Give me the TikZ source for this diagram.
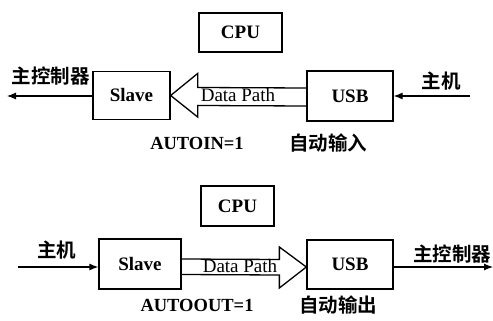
\documentclass[tikz,border=0pt]{standalone}
\usepackage{fontspec}
\setmainfont{Liberation Serif}
\newfontfamily\cjk{Noto Sans CJK SC}[BoldFont={Noto Sans CJK SC Bold}]
\usetikzlibrary{calc,arrows.meta}
\begin{document}
\begin{tikzpicture}[x=1pt,y=-1pt,
  box/.style={draw,line width=1.3pt,inner sep=0pt,font=\fontsize{19}{19}\selectfont\bfseries},
  lbl/.style={inner sep=0pt,font=\fontsize{18.5}{18.5}\selectfont\bfseries},
  zh/.style={inner sep=0pt,font=\fontsize{19.5}{19.5}\selectfont\cjk\bfseries},
  flow/.style={line width=1.1pt,-{Latex[length=9pt,width=7pt]}},
  pipe/.style={line width=1.3pt,line join=miter},
  dp/.style={inner sep=0pt,font=\fontsize{19}{19}\selectfont}]
\useasboundingbox (0,0) rectangle (493,321);

% ---- automatic input: USB -> Slave
\node[box,minimum width=83pt,minimum height=39pt] (cpu1) at (240.5,32.5) {CPU};
\node[box,minimum width=77pt,minimum height=48pt] (slave1) at (131.5,95.5) {Slave};
\node[box,minimum width=86pt,minimum height=50pt] (usb1) at (350,96) {USB};
\coordinate (out1) at (7,96);
\coordinate (in1) at (470,96);
\draw[flow] (slave1.west |- out1) -- (out1);
\draw[flow] (in1) -- (in1 -| usb1.east);
\draw[pipe] ($(usb1.west)+(0,-8)$) -- ($(slave1.east)+(27,-8)$) -- ($(slave1.east)+(27,-22)$)
  -- (slave1.east) -- ($(slave1.east)+(27,21.5)$) -- ($(slave1.east)+(27,10)$) -- ($(usb1.west)+(0,10)$);
\node[dp] (dp1) at (238,95) {Data Path};
\node[zh] (host1) at (51,76) {主控制器};
\node[zh] (pc1) at (441,81) {主机};
\node[lbl] (auto1) at (197,143) {AUTOIN=1};
\node[zh] (mode1) at (328,143) {自动输入};

% ---- automatic output: Slave -> USB
\node[box,minimum width=73pt,minimum height=40pt] (cpu2) at (237.5,206) {CPU};
\node[box,minimum width=82pt,minimum height=50pt] (slave2) at (140,264) {Slave};
\node[box,minimum width=86pt,minimum height=49pt] (usb2) at (350,264.5) {USB};
\coordinate (in2) at (18,267);
\coordinate (out2) at (493,267);
\draw[flow] (in2) -- (in2 -| slave2.west);
\draw[flow] (usb2.east |- out2) -- (out2);
\draw[pipe] ($(slave2.east)+(0,-5)$) -- ($(usb2.west)+(-27,-5)$) -- ($(usb2.west)+(-27,-17.5)$)
  -- ($(usb2.west)+(0,2.5)$) -- ($(usb2.west)+(-27,23.5)$) -- ($(usb2.west)+(-27,10.5)$) -- ($(slave2.east)+(0,10.5)$);
\node[dp] (dp2) at (240,266) {Data Path};
\node[zh] (pc2) at (57,250) {主机};
\node[zh] (host2) at (452,254) {主控制器};
\node[lbl] (auto2) at (197,305) {AUTOOUT=1};
\node[zh] (mode2) at (338,305) {自动输出};
\end{tikzpicture}
\end{document}
